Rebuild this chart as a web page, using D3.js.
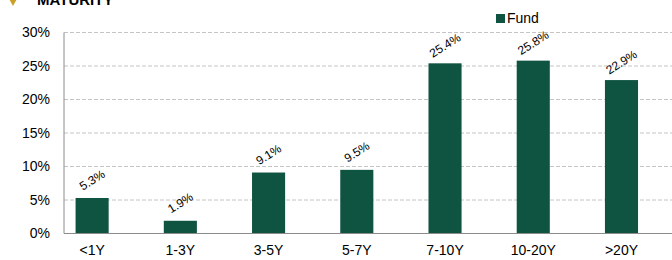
<!DOCTYPE html>
<html>
<head>
<meta charset="utf-8">
<script src="https://cdn.jsdelivr.net/npm/d3@7"></script>
<style>
  body { margin: 0; background: #fff; }
  text { font-family: "Liberation Sans", Arial, sans-serif; fill: #000; }
</style>
</head>
<body>
<div id="chart"></div>
<script>
// Data
const categories = ['<1Y', '1-3Y', '3-5Y', '5-7Y', '7-10Y', '10-20Y', '>20Y']
const fundValues = [5.3, 1.9, 9.1, 9.5, 25.4, 25.8, 22.9]
const yTicks = [0, 5, 10, 15, 20, 25, 30]
const seriesName = 'Fund'
const title = 'MATURITY'

const dimensions = {
  width: 672,
  height: 260,
  left: 64,
  right: 672,
  top: 32.5,
  bottom: 233.5
}

const svg = d3.select('#chart')
  .append('svg')
  .attr('width', dimensions.width)
  .attr('height', dimensions.height)

// Title (partly cut off at the top, as in the source)
svg.append('path')
  .attr('d', d3.symbol(d3.symbolDiamond, 40)())
  .attr('transform', 'translate(13, 0)')
  .attr('fill', '#c9a227')
svg.append('text')
  .attr('x', 37)
  .attr('y', 5)
  .attr('font-size', 15)
  .attr('font-weight', 'bold')
  .text(title)

// Scales
const xScale = d3.scaleBand()
  .domain(categories)
  .range([48, 665.6])
  .paddingInner(0.625)
  .paddingOuter(0.3125)

const yScale = d3.scaleLinear()
  .domain([0, 30])
  .range([dimensions.bottom, dimensions.top])

// Grid
svg.append('g')
  .selectAll('line')
  .data(yTicks.filter(d => d > 0))
  .join('line')
  .attr('x1', dimensions.left)
  .attr('x2', dimensions.right)
  .attr('y1', d => yScale(d))
  .attr('y2', d => yScale(d))
  .attr('stroke', '#c4c4c4')
  .attr('stroke-dasharray', '4,2')

// Y axis
const yAxis = d3.axisLeft(yScale)
  .tickValues(yTicks)
  .tickFormat(d => d + '%')
  .tickSize(0)
  .tickPadding(14)

const yAxisGroup = svg.append('g')
  .attr('transform', `translate(${dimensions.left}, 0)`)
  .call(yAxis)
yAxisGroup.select('.domain').remove()
yAxisGroup.selectAll('text')
  .attr('font-size', 14)
  .attr('font-family', '"Liberation Sans", Arial, sans-serif')

// Bars
svg.append('g')
  .selectAll('rect')
  .data(fundValues)
  .join('rect')
  .attr('x', (d, i) => xScale(categories[i]))
  .attr('y', d => yScale(d))
  .attr('width', xScale.bandwidth())
  .attr('height', d => yScale(0) - yScale(d))
  .attr('fill', '#0f5441')

// Axis lines
svg.append('line')
  .attr('x1', dimensions.left).attr('x2', dimensions.left)
  .attr('y1', dimensions.top).attr('y2', dimensions.bottom)
  .attr('stroke', '#8c8c8c')
svg.append('line')
  .attr('x1', dimensions.left).attr('x2', dimensions.right)
  .attr('y1', dimensions.bottom).attr('y2', dimensions.bottom)
  .attr('stroke', '#8c8c8c')

// X axis labels
const xAxis = d3.axisBottom(xScale)
  .tickSize(0)
  .tickPadding(12)
const xAxisGroup = svg.append('g')
  .attr('transform', `translate(0, ${dimensions.bottom})`)
  .call(xAxis)
xAxisGroup.select('.domain').remove()
xAxisGroup.selectAll('text')
  .attr('font-size', 14)
  .attr('font-family', '"Liberation Sans", Arial, sans-serif')

// Value labels
svg.append('g')
  .selectAll('text')
  .data(fundValues)
  .join('text')
  .attr('transform', (d, i) => {
    const x = xScale(categories[i]) + xScale.bandwidth() / 2
    const y = yScale(d) - 18
    return `translate(${x}, ${y}) rotate(-32)`
  })
  .attr('text-anchor', 'middle')
  .attr('dy', '0.35em')
  .attr('font-size', 12)
  .text(d => d.toFixed(1) + '%')

// Legend
const legend = svg.append('g')
  .attr('transform', 'translate(496, 14)')
legend.append('rect')
  .attr('width', 9)
  .attr('height', 9)
  .attr('fill', '#0f5441')
legend.append('text')
  .attr('x', 11)
  .attr('y', 9)
  .attr('font-size', 14)
  .text(seriesName)
</script>
</body>
</html>
